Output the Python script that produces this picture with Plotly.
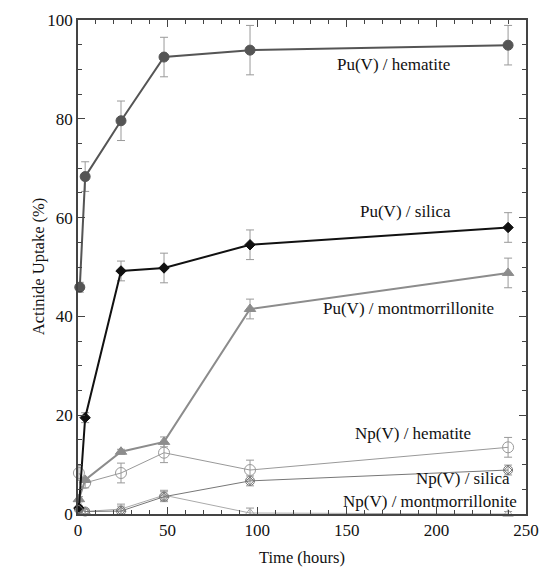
import plotly.graph_objects as go

# Data (time in hours, uptake in %)
pu_hem_t = [1, 4, 24, 48, 96, 240]
pu_hem_y = [45.9, 68.3, 79.6, 92.5, 93.9, 94.9]
pu_hem_e = [1.0, 3.0, 4.0, 4.0, 5.0, 4.0]

pu_sil_t = [0.5, 4, 24, 48, 96, 240]
pu_sil_y = [1.2, 19.5, 49.2, 49.8, 54.5, 58.0]
pu_sil_e = [0.5, 1.0, 2.0, 3.0, 3.0, 3.0]

pu_mon_t = [0.5, 4, 24, 48, 96, 240]
pu_mon_y = [3.0, 6.9, 12.6, 14.6, 41.5, 48.8]
pu_mon_e = [0.5, 0.5, 0.5, 1.0, 2.0, 3.0]

np_hem_t = [0.5, 4, 24, 48, 96, 240]
np_hem_y = [8.3, 6.3, 8.3, 12.4, 8.9, 13.5]
np_hem_e = [1.5, 1.0, 2.0, 2.0, 2.0, 2.0]

np_sil_t = [0.5, 4, 24, 48, 96, 240]
np_sil_y = [1.0, 0.5, 0.6, 3.5, 6.7, 8.9]
np_sil_e = [0.5, 0.5, 1.0, 1.0, 1.0, 1.0]

np_mon_t = [0.5, 4, 24, 48, 96, 240]
np_mon_y = [3.0, 0.5, 1.0, 3.8, 0.2, 0.0]
np_mon_e = [0.5, 0.5, 1.0, 1.0, 1.0, 0.5]

labels = ["Pu(V) / hematite", "Pu(V) / silica", "Pu(V) / montmorrillonite",
          "Np(V) / hematite", "Np(V) / silica", "Np(V) / montmorrillonite"]
label_x = [176.3, 182.5, 184.2, 187.0, 214.8, 196.4]
label_y = [90.9, 61.3, 41.5, 16.2, 7.2, 2.6]

x_title = "Time (hours)"
y_title = "Actinide Uptake (%)"

FONT = "Liberation Serif"

series = [
    (np_mon_t, np_mon_y, np_mon_e, "#aaaaaa", "triangle-up-open", 9, 1),
    (np_sil_t, np_sil_y, np_sil_e, "#777777", "circle-open", 9, 1),
    (np_hem_t, np_hem_y, np_hem_e, "#999999", "circle-open", 11, 1),
    (pu_mon_t, pu_mon_y, pu_mon_e, "#8c8c8c", "triangle-up", 10, 2),
    (pu_sil_t, pu_sil_y, pu_sil_e, "#111111", "diamond", 8, 2),
    (pu_hem_t, pu_hem_y, pu_hem_e, "#555555", "circle", 10, 2),
]

fig = go.Figure()
for t, y, e, c, sym, sz, lw in series:
    fig.add_trace(go.Scatter(
        x=t, y=y, mode="lines+markers",
        line=dict(color=c, width=lw),
        marker=dict(symbol=sym, size=sz, color=c, line=dict(color=c, width=1)),
        error_y=dict(type="data", array=e, visible=True, color="#999999", thickness=1, width=4),
        cliponaxis=False, showlegend=False,
    ))
# diamond inside the Np(V)/silica circles
fig.add_trace(go.Scatter(
    x=np_sil_t, y=np_sil_y, mode="markers",
    marker=dict(symbol="diamond-open", size=6, color="#777777", line=dict(color="#777777", width=1)),
    cliponaxis=False, showlegend=False, hoverinfo="skip",
))

for txt, lx, ly in zip(labels, label_x, label_y):
    fig.add_annotation(x=lx, y=ly, xref="x", yref="y", text=txt, showarrow=False,
                       font=dict(family=FONT, size=17, color="#111111"),
                       bgcolor="rgba(0,0,0,0)")

# y-axis title placed as a rotated annotation
fig.add_annotation(x=-0.089, y=0.5, xref="paper", yref="paper", text=y_title,
                   textangle=-90, showarrow=False, xanchor="center", yanchor="middle",
                   font=dict(family=FONT, size=16.5, color="#111111"))

axis_common = dict(
    showline=True, linecolor="#444444", linewidth=1.5, mirror="allticks",
    ticks="inside", ticklen=7, tickcolor="#444444", tickwidth=1.2,
    showgrid=False, zeroline=False, automargin=False,
    tickfont=dict(family=FONT, size=17, color="#111111"),
)
fig.update_xaxes(range=[0, 250], dtick=50,
                 minor=dict(dtick=10, ticks="inside", ticklen=4, tickcolor="#444444"),
                 title=dict(text=x_title, font=dict(family=FONT, size=16.5, color="#111111")),
                 **axis_common)
fig.update_yaxes(range=[0, 100], dtick=20,
                 minor=dict(dtick=5, ticks="inside", ticklen=4, tickcolor="#444444"),
                 **axis_common)

fig.update_layout(
    width=542, height=567,
    margin=dict(l=78, r=16, t=20, b=53),
    plot_bgcolor="white", paper_bgcolor="white",
)

fig.write_html("out.html")
